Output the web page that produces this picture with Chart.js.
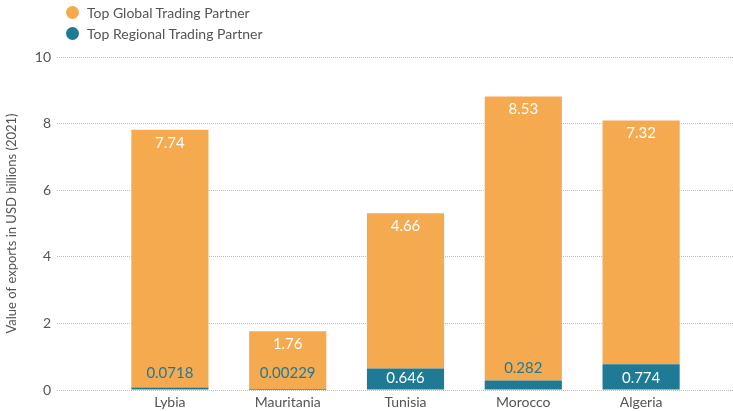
<!DOCTYPE html>
<html>
<head>
<meta charset="utf-8">
<script src="https://cdn.jsdelivr.net/npm/chart.js@4"></script>
<style>
  body { margin: 0; background: #fff; }
  #wrap { position: relative; width: 733px; height: 411px; }
  #legend { position: absolute; left: 66px; top: 2px; font-family: Lato, sans-serif; font-size: 14px; color: #555; }
  #legend .item { display: flex; align-items: center; height: 21px; }
  #legend .dot { width: 13px; height: 13px; border-radius: 50%; margin-right: 8px; }
</style>
</head>
<body>
<div id="wrap">
  <canvas id="chart" width="733" height="411"></canvas>
  <div id="legend"></div>
</div>
<script>
const countries = ['Lybia', 'Mauritania', 'Tunisia', 'Morocco', 'Algeria'];
const globalPartner = [7.74, 1.76, 4.66, 8.53, 7.32];
const regionalPartner = [0.0718, 0.00229, 0.646, 0.282, 0.774];

const orange = '#F5AA50';
const teal = '#1F7A96';
const grey = '#555555';
const gridColor = '#bdbdbd';

// html legend (two rows, like the original)
const legendItems = [['Top Global Trading Partner', orange], ['Top Regional Trading Partner', teal]];
document.getElementById('legend').innerHTML = legendItems.map(([t, c]) =>
  `<div class="item"><span class="dot" style="background:${c}"></span>${t}</div>`).join('');

// value labels on the bars
const valueLabels = {
  id: 'valueLabels',
  afterDatasetsDraw(chart) {
    const ctx = chart.ctx;
    ctx.save();
    ctx.font = '15px Lato';
    ctx.textAlign = 'center';
    ctx.textBaseline = 'middle';
    chart.data.datasets.forEach((ds, i) => {
      chart.getDatasetMeta(i).data.forEach((bar, j) => {
        const h = bar.base - bar.y;
        let y, color = '#fff';
        if (i === 0) {
          if (h < 16) { y = Math.min(bar.y, bar.base - 4) - 12; color = teal; }
          else y = bar.base - 11;
        } else {
          y = bar.y + 13;
        }
        ctx.fillStyle = color;
        ctx.fillText(String(ds.data[j]), bar.x, y);
      });
    });
    ctx.restore();
  }
};

new Chart(document.getElementById('chart'), {
  type: 'bar',
  data: {
    labels: countries,
    datasets: [
      { label: 'Top Regional Trading Partner', data: regionalPartner, backgroundColor: teal },
      { label: 'Top Global Trading Partner', data: globalPartner, backgroundColor: orange }
    ]
  },
  options: {
    responsive: false,
    animation: false,
    layout: { padding: { top: 57, bottom: 2, left: 0, right: 0 } },
    datasets: { bar: { categoryPercentage: 1, barPercentage: 0.655 } },
    plugins: { legend: { display: false }, tooltip: { enabled: false } },
    scales: {
      x: {
        stacked: true,
        afterFit(scale) { scale.height = 19; },
        grid: { display: false, drawTicks: false },
        border: { display: false },
        ticks: { color: grey, font: { family: 'Lato', size: 14 }, padding: 4 }
      },
      y: {
        stacked: true,
        min: 0, max: 10,
        afterFit(scale) { scale.width = 111; },
        ticks: { stepSize: 2, color: grey, font: { family: 'Lato', size: 14 }, padding: 6 },
        grid: { color: gridColor, borderDash: [1, 1], tickLength: 54, tickColor: gridColor, tickBorderDash: [1, 1] },
        border: { display: false, dash: [1, 1] },
        title: { display: true, text: 'Value of exports in USD billions (2021)', color: grey, font: { family: 'Lato', size: 13 } }
      },
      y2: {
        position: 'right',
        min: 0, max: 10,
        ticks: { display: false, stepSize: 2 },
        grid: { drawOnChartArea: false, tickLength: 33, tickColor: gridColor, tickBorderDash: [1, 1] },
        border: { display: false }
      }
    }
  },
  plugins: [valueLabels]
});
</script>
</body>
</html>
